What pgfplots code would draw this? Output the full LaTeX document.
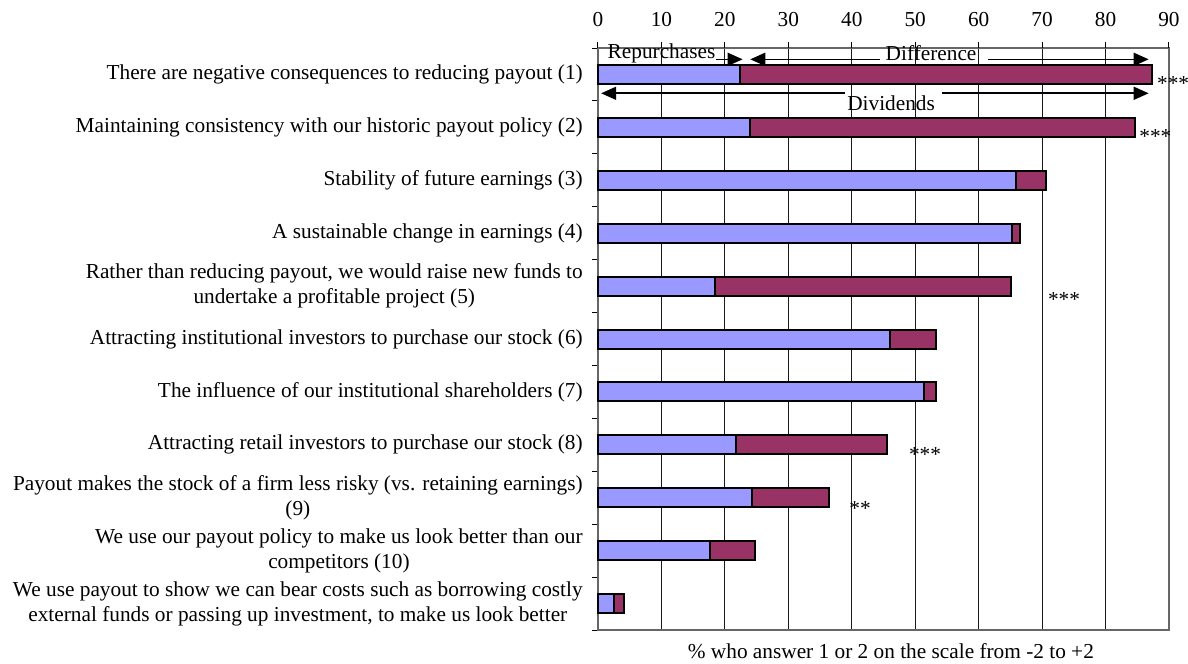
\documentclass[border=0pt]{standalone}
\usepackage{pgfplots}
\pgfplotsset{compat=1.18}
\usepackage{fontspec}
\setmainfont{Liberation Serif}
\usetikzlibrary{arrows.meta}
\definecolor{repblue}{HTML}{9999FF}
\definecolor{diffred}{HTML}{993366}
\newcommand{\chartfont}{\fontsize{21.3bp}{25bp}\selectfont}
\begin{document}
\chartfont
\begin{tikzpicture}
\begin{axis}[
  at={(0,0)}, anchor=south west,
  scale only axis, width=571bp, height=582bp,
  xbar stacked, bar width=19bp,
  xmin=0, xmax=90, ymin=0.5, ymax=11.5, y dir=reverse,
  xtick={0,10,...,90},
  xtick pos=right, xticklabel pos=right,
  ytick={1,...,11}, ytick pos=left,
  minor ytick={0.5,1.5,...,11.5},
  major tick length=0bp, minor tick length=6bp,
  tick align=outside,
  extra x ticks={0,10,...,90}, extra x tick labels={},
  extra x tick style={major tick length=6bp, grid=none},
  xmajorgrids, grid style={black!90, line width=0.8bp},
  axis line style={black!60, line width=1.2bp},
  tick style={black, line width=1bp},
  every tick label/.append style={font=\chartfont},
  xticklabel style={yshift=14bp},
  /pgf/number format/assume math mode=true,
  yticklabel style={align=center, xshift=-8bp},
  yticklabels={
    {There are negative consequences to reducing payout (1)},
    {Maintaining consistency with our historic payout policy (2)},
    {Stability of future earnings (3)},
    {A sustainable change in earnings (4)},
    {Rather than reducing payout, we would raise new funds to\\undertake a profitable project (5)},
    {Attracting institutional investors to purchase our stock (6)},
    {The influence of our institutional shareholders (7)},
    {Attracting retail investors to purchase our stock (8)},
    {Payout makes the stock of a firm less risky (vs. retaining earnings)\\(9)},
    {We use our payout policy to make us look better than our\\competitors (10)},
    {We use payout to show we can bear costs such as borrowing costly\\external funds or passing up investment, to make us look better}
  },
  clip=false,
]
\addplot[fill=repblue, draw=black, line width=2bp] coordinates {
  (22.4,1) (23.9,2) (65.9,3) (65.2,4) (18.5,5) (46.0,6) (51.4,7) (21.8,8) (24.2,9) (17.6,10) (2.5,11)};
\addplot[fill=diffred, draw=black, line width=2bp] coordinates {
  (64.9,1) (60.7,2) (4.7,3) (1.3,4) (46.6,5) (7.2,6) (1.8,7) (23.7,8) (12.2,9) (7.1,10) (1.6,11)};
% significance stars
\node[anchor=west, inner sep=0pt] at (axis cs:88.1,1.175) {***};
\node[anchor=west, inner sep=0pt] at (axis cs:85.3,2.18) {***};
\node[anchor=west, inner sep=0pt] at (axis cs:70.9,5.245) {***};
\node[anchor=west, inner sep=0pt] at (axis cs:49.0,8.19) {***};
\node[anchor=west, inner sep=0pt] at (axis cs:39.6,9.196) {**};
% annotation arrows
\tikzset{annarrow/.style={line width=1.6bp, -{Triangle[length=15bp,width=13bp]}}}
\node[anchor=west, inner sep=0pt] at (axis cs:1.5,0.60) {Repurchases};
\draw[annarrow] (axis cs:18.6,0.714) -- (axis cs:22.8,0.714);
\draw[annarrow] (axis cs:44.4,0.714) -- (axis cs:24.0,0.714);
\node[inner sep=0pt] at (axis cs:52.5,0.60) {Difference};
\draw[annarrow] (axis cs:61.5,0.714) -- (axis cs:86.8,0.714);
\draw[annarrow] (axis cs:38.9,1.356) -- (axis cs:0.5,1.356);
\node[inner sep=0pt] at (axis cs:46.2,1.54) {Dividends};
\draw[annarrow] (axis cs:54.3,1.356) -- (axis cs:86.8,1.356);
% x label
\node at (axis description cs:0.513,-0.036) {\% who answer 1 or 2 on the scale from -2 to +2};
\end{axis}
\pgfresetboundingbox
\path[use as bounding box] (-598bp,-34bp) rectangle (590bp,630bp);
\end{tikzpicture}
\end{document}
